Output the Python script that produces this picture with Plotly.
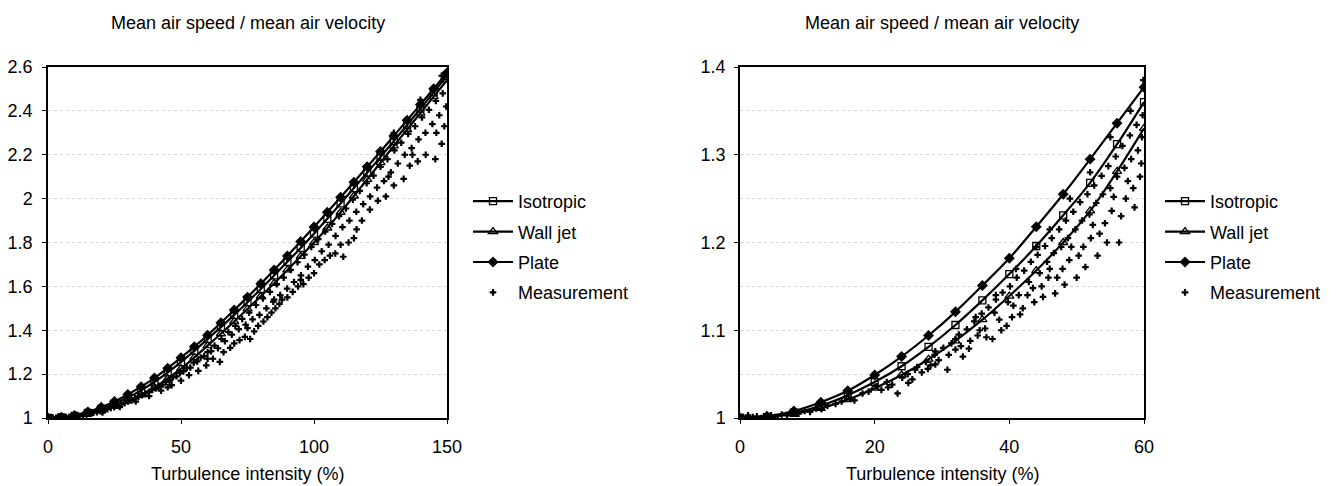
import plotly.graph_objects as go

# --- model curves, left panel (0-150 %) ---
left_x = [0, 5, 10, 15, 20, 25, 30, 35, 40, 45, 50, 55, 60, 65, 70, 75, 80, 85, 90, 95,
          100, 105, 110, 115, 120, 125, 130, 135, 140, 145, 150]
left_isotropic = [1.000, 1.003, 1.010, 1.023, 1.041, 1.065, 1.093, 1.126, 1.164, 1.208, 1.255,
                  1.306, 1.360, 1.414, 1.470, 1.528, 1.588, 1.650, 1.712, 1.775, 1.840, 1.908,
                  1.978, 2.048, 2.118, 2.190, 2.262, 2.336, 2.410, 2.485, 2.560]
left_walljet = [1.000, 1.002, 1.009, 1.019, 1.034, 1.053, 1.077, 1.106, 1.139, 1.180, 1.225,
                1.276, 1.330, 1.384, 1.440, 1.497, 1.555, 1.614, 1.675, 1.737, 1.800, 1.866,
                1.938, 2.012, 2.088, 2.164, 2.240, 2.315, 2.390, 2.465, 2.540]
left_plate = [1.000, 1.003, 1.012, 1.028, 1.049, 1.075, 1.107, 1.143, 1.182, 1.227, 1.275,
              1.325, 1.377, 1.434, 1.492, 1.551, 1.612, 1.675, 1.739, 1.805, 1.871, 1.938,
              2.006, 2.075, 2.145, 2.215, 2.286, 2.357, 2.429, 2.501, 2.574]

# --- model curves, right panel (0-60 %) ---
right_x = [0, 4, 8, 12, 16, 20, 24, 28, 32, 36, 40, 44, 48, 52, 56, 60]
right_isotropic = [1.000, 1.001, 1.006, 1.014, 1.026, 1.041, 1.059, 1.081, 1.106, 1.134, 1.164,
                   1.196, 1.231, 1.268, 1.312, 1.360]
right_walljet = [1.000, 1.001, 1.005, 1.011, 1.021, 1.034, 1.049, 1.067, 1.088, 1.112, 1.139,
                 1.168, 1.200, 1.236, 1.281, 1.330]
right_plate = [1.000, 1.002, 1.008, 1.018, 1.031, 1.049, 1.070, 1.094, 1.121, 1.151, 1.182,
               1.218, 1.255, 1.295, 1.336, 1.377]

# --- measurements (turbulence intensity %, ratio) ---
left_meas = [
    [0.5, 1.000], [1.8, 1.002], [3.0, 1.001], [4.2, 1.003], [5.5, 1.002], [6.8, 1.004],
    [8.0, 1.006], [9.3, 1.005], [10.6, 1.010], [11.9, 1.009], [13.2, 1.014], [14.5, 1.016],
    [15.8, 1.020], [17.1, 1.024], [18.4, 1.027], [19.7, 1.031], [21.0, 1.036], [22.3, 1.040],
    [23.6, 1.046], [24.9, 1.049], [26.2, 1.057], [27.5, 1.062], [28.8, 1.068], [30.1, 1.075],
    [31.4, 1.082], [32.7, 1.090], [34.0, 1.096], [35.3, 1.104], [36.6, 1.112], [37.9, 1.118],
    [39.2, 1.128], [40.5, 1.135], [41.8, 1.146], [43.1, 1.152], [44.4, 1.165], [45.7, 1.170],
    [47.0, 1.186], [48.3, 1.190], [49.6, 1.205], [50.9, 1.212], [52.2, 1.228], [53.5, 1.230],
    [54.8, 1.252], [56.1, 1.258], [57.4, 1.276], [58.7, 1.282], [60.0, 1.300], [61.3, 1.305],
    [62.6, 1.330], [63.9, 1.318], [65.2, 1.360], [66.5, 1.350], [67.8, 1.392], [69.1, 1.380],
    [70.4, 1.420], [71.7, 1.405], [73.0, 1.452], [74.3, 1.425], [75.6, 1.480], [76.9, 1.450],
    [78.2, 1.515], [79.5, 1.470], [80.8, 1.545], [82.1, 1.500], [83.4, 1.575], [84.7, 1.530],
    [86.0, 1.610], [87.3, 1.560], [88.6, 1.640], [89.9, 1.590], [91.2, 1.675], [92.5, 1.620],
    [93.8, 1.710], [95.1, 1.650], [96.4, 1.745], [97.7, 1.690], [99.0, 1.780], [100.3, 1.720],
    [101.6, 1.815], [102.9, 1.760], [104.2, 1.850], [105.5, 1.790], [106.8, 1.885], [108.1, 1.830],
    [109.4, 1.920], [110.7, 1.870], [112.0, 1.955], [113.3, 1.900], [114.6, 1.995], [115.9, 1.940],
    [117.2, 2.035], [118.5, 1.975], [119.8, 2.070], [121.1, 2.010], [122.4, 2.105], [123.7, 2.050],
    [125.0, 2.145], [126.3, 2.080], [127.6, 2.180], [128.9, 2.120], [130.2, 2.220], [131.5, 2.160],
    [132.8, 2.255], [134.1, 2.200], [135.4, 2.295], [136.7, 2.230], [138.0, 2.330], [139.3, 2.270],
    [140.6, 2.370], [141.9, 2.300], [143.2, 2.405], [144.5, 2.340], [145.8, 2.445], [147.1, 2.380],
    [148.4, 2.480], [149.7, 2.420],
    [20.5, 1.025], [27.0, 1.050], [33.0, 1.075], [38.0, 1.100], [42.5, 1.125], [46.5, 1.150],
    [50.0, 1.170], [53.0, 1.195], [56.5, 1.215], [59.5, 1.240], [62.0, 1.270], [64.6, 1.256],
    [66.0, 1.300], [68.5, 1.320], [70.0, 1.340], [72.0, 1.355], [74.0, 1.370], [76.0, 1.360],
    [77.5, 1.395], [79.0, 1.420], [81.0, 1.440], [82.5, 1.460], [84.0, 1.480], [85.5, 1.500],
    [87.0, 1.520], [88.0, 1.540], [90.0, 1.550], [92.0, 1.575], [94.0, 1.600], [96.0, 1.610],
    [98.0, 1.640], [100.0, 1.660], [102.0, 1.700], [104.0, 1.720], [106.0, 1.740], [108.0, 1.750],
    [111.0, 1.735], [113.0, 1.800], [116.0, 1.860], [118.0, 1.900], [121.0, 1.950], [124.0, 1.990],
    [127.0, 2.010], [130.0, 2.060], [133.7, 2.090], [136.0, 2.150], [139.0, 2.170], [142.0, 2.200],
    [145.6, 2.180], [148.0, 2.250], [149.0, 2.330], [146.0, 2.300], [137.0, 2.200], [128.0, 2.100],
    [115.0, 1.820], [110.0, 1.790], [95.0, 1.630], [85.0, 1.540], [75.0, 1.410], [60.0, 1.270],
    [45.0, 1.140], [130.0, 2.300], [140.0, 2.450], [148.0, 2.560], [120.0, 2.140], [100.0, 1.870],
    [90.0, 1.730], [80.0, 1.620], [70.0, 1.490],
]

right_meas = [
    [0.4, 1.001], [0.8, 1.000], [1.2, 1.003], [1.9, 1.001], [2.5, 1.002], [3.1, 1.000],
    [3.8, 1.002], [4.6, 1.003], [5.3, 1.001], [6.2, 1.004], [7.0, 1.003], [7.9, 1.006],
    [8.7, 1.005], [9.6, 1.008], [10.4, 1.007], [11.3, 1.011], [12.1, 1.010], [13.0, 1.014],
    [14.2, 1.016], [15.1, 1.019], [16.3, 1.022], [17.0, 1.020], [18.2, 1.028], [19.1, 1.030],
    [20.3, 1.036], [21.0, 1.032], [21.8, 1.041], [22.6, 1.038], [23.4, 1.028], [24.1, 1.046],
    [24.9, 1.050], [25.6, 1.044], [26.3, 1.058], [27.0, 1.052], [27.6, 1.064], [28.3, 1.060],
    [28.9, 1.072], [29.5, 1.066], [30.2, 1.080], [30.8, 1.055], [31.4, 1.085], [32.0, 1.078],
    [32.5, 1.095], [33.1, 1.070], [33.7, 1.101], [34.2, 1.088], [34.8, 1.110], [35.3, 1.094],
    [35.9, 1.119], [36.4, 1.102], [36.9, 1.126], [37.5, 1.090], [38.0, 1.135], [38.5, 1.112],
    [39.0, 1.143], [39.6, 1.105], [40.1, 1.150], [40.6, 1.128], [41.1, 1.160], [41.6, 1.118],
    [42.2, 1.168], [42.7, 1.140], [43.2, 1.178], [43.7, 1.132], [44.2, 1.186], [44.8, 1.150],
    [45.3, 1.196], [45.8, 1.160], [46.3, 1.205], [46.8, 1.142], [47.4, 1.215], [47.9, 1.170],
    [48.4, 1.225], [48.9, 1.180], [49.5, 1.235], [50.0, 1.160], [50.5, 1.246], [51.0, 1.195],
    [51.6, 1.255], [52.1, 1.205], [52.6, 1.265], [53.1, 1.185], [53.7, 1.276], [54.2, 1.222],
    [54.7, 1.287], [55.2, 1.236], [55.8, 1.298], [56.3, 1.200], [56.8, 1.310], [57.3, 1.250],
    [57.9, 1.322], [58.4, 1.262], [58.9, 1.334], [59.4, 1.275], [59.8, 1.345],
    [22.0, 1.035], [25.0, 1.040], [27.9, 1.056], [29.0, 1.061], [31.0, 1.072], [32.8, 1.082],
    [34.0, 1.079], [35.6, 1.100], [36.6, 1.092], [37.8, 1.120], [38.8, 1.100], [39.8, 1.132],
    [40.4, 1.115], [41.4, 1.140], [42.0, 1.125], [42.9, 1.155], [43.5, 1.148], [44.5, 1.165],
    [45.0, 1.138], [45.6, 1.178], [46.0, 1.170], [46.6, 1.188], [47.1, 1.160], [47.7, 1.195],
    [48.2, 1.152], [48.7, 1.205], [49.2, 1.195], [49.8, 1.215], [50.3, 1.185], [50.8, 1.225],
    [51.3, 1.172], [51.9, 1.232], [52.4, 1.220], [52.9, 1.245], [53.4, 1.210], [53.9, 1.255],
    [54.5, 1.200], [55.0, 1.262], [55.5, 1.252], [56.0, 1.275], [56.6, 1.230], [57.1, 1.285],
    [57.6, 1.270], [58.1, 1.295], [58.6, 1.240], [59.1, 1.305], [59.6, 1.290], [59.9, 1.385],
    [59.7, 1.320], [58.0, 1.350], [55.0, 1.320], [52.0, 1.280], [49.0, 1.250], [46.0, 1.215],
    [44.0, 1.195], [41.0, 1.170], [38.0, 1.140], [35.0, 1.115], [32.0, 1.090], [29.0, 1.076],
    [26.0, 1.055],
]

FONT = "Arial, Liberation Sans, sans-serif"
# page body has an 8px margin, so the figure is 8px smaller than the window
OFF = 8
W, H = 1339 - OFF, 486 - OFF


def px(x):
    return (x - OFF) / W


def py(y):
    return 1 - (y - OFF) / H


fig = go.Figure()


def add_panel(xa, ya, legend, x, iso, wj, plate, meas):
    # model curves first, then the measurement points
    styles = [("Isotropic", iso, "square-open", 7),
              ("Wall jet", wj, "triangle-up-open", 8),
              ("Plate", plate, "diamond", 7)]
    for name, ys, sym, size in styles:
        fig.add_trace(go.Scatter(
            x=x, y=ys, name=name, mode="lines+markers", xaxis=xa, yaxis=ya,
            legend=legend, legendgroup=legend + name,
            line=dict(color="black", width=2.2, shape="spline"),
            marker=dict(symbol=sym, size=size, color="black",
                        line=dict(color="black", width=1.3)),
        ))
    fig.add_trace(go.Scatter(
        x=[p[0] for p in meas], y=[p[1] for p in meas], name="Measurement",
        mode="markers", xaxis=xa, yaxis=ya, legend=legend,
        legendgroup=legend + "meas",
        marker=dict(symbol="cross", size=5.5, color="black"),
    ))


add_panel("x", "y", "legend", left_x, left_isotropic, left_walljet, left_plate, left_meas)
add_panel("x2", "y2", "legend2", right_x, right_isotropic, right_walljet, right_plate, right_meas)

ax_common = dict(showline=True, linecolor="black", linewidth=1.5, mirror=True,
                 ticks="outside", ticklen=4, tickcolor="black", zeroline=False,
                 automargin=False,
                 tickfont=dict(family=FONT, size=18, color="black"))
grid = dict(showgrid=True, gridcolor="#d6d6d6", griddash="dot", gridwidth=1)

left_dom = [px(48), px(447)]
right_dom = [px(740), px(1144)]
y_dom = [py(418), py(67)]

fig.update_layout(
    width=W, height=H,
    margin=dict(l=0, r=0, t=0, b=0, autoexpand=False),
    paper_bgcolor="white", plot_bgcolor="white",
    font=dict(family=FONT, color="black"),
    xaxis=dict(domain=left_dom, range=[0, 150], dtick=50, showgrid=False, anchor="y",
               ticklabelstandoff=8, **ax_common),
    yaxis=dict(domain=y_dom, range=[1, 2.6], dtick=0.2, anchor="x",
               ticklabelstandoff=6, **grid, **ax_common),
    xaxis2=dict(domain=right_dom, range=[0, 60], dtick=20, showgrid=False, anchor="y2",
                ticklabelstandoff=8, **ax_common),
    yaxis2=dict(domain=y_dom, range=[1, 1.4], dtick=0.1, anchor="x2",
                ticklabelstandoff=5, **grid,
                minor=dict(dtick=0.05, showgrid=True, gridcolor="#d6d6d6", griddash="dot"),
                **ax_common),
    legend=dict(x=px(468), y=py(183), xanchor="left", yanchor="top",
                bgcolor="rgba(0,0,0,0)", itemwidth=40, tracegroupgap=4,
                font=dict(family=FONT, size=18, color="black")),
    legend2=dict(x=px(1160), y=py(183), xanchor="left", yanchor="top",
                 bgcolor="rgba(0,0,0,0)", itemwidth=40, tracegroupgap=4,
                 font=dict(family=FONT, size=18, color="black")),
)

titles = [(px((48 + 447) / 2), "Mean air speed / mean air velocity", py(23)),
          (px((740 + 1144) / 2), "Mean air speed / mean air velocity", py(23)),
          (px((48 + 447) / 2), "Turbulence intensity (%)", py(474)),
          (px((740 + 1144) / 2), "Turbulence intensity (%)", py(474))]
for x, text, y in titles:
    fig.add_annotation(x=x, y=y, xref="paper", yref="paper", text=text, showarrow=False,
                       xanchor="center", yanchor="middle",
                       font=dict(family=FONT, size=18, color="black"))

fig.write_html("out.html")
